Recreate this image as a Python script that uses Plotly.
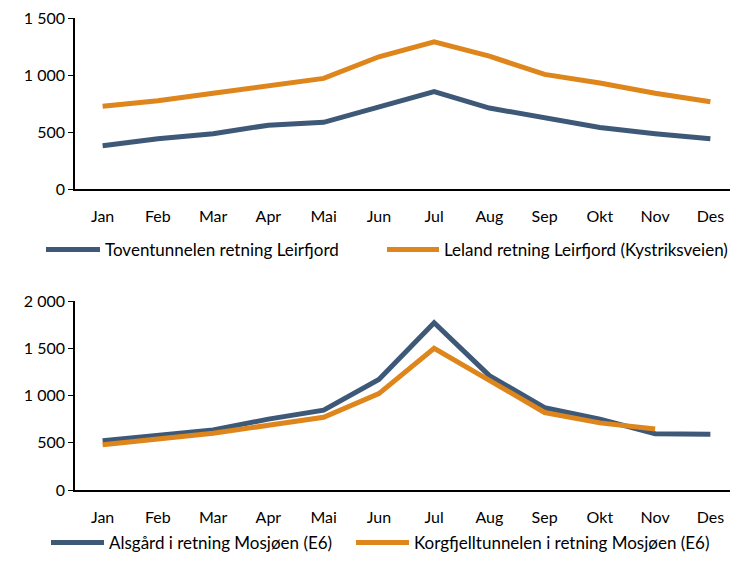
import plotly.graph_objects as go

# ── Data ────────────────────────────────────────────────────────────────
MONTHS = ["Jan", "Feb", "Mar", "Apr", "Mai", "Jun", "Jul", "Aug", "Sep", "Okt", "Nov", "Des"]

TOVEN = [380, 440, 485, 560, 585, 725, 855, 710, 620, 540, 485, 440]
LELAND = [725, 775, 840, 910, 970, 1160, 1290, 1165, 1005, 930, 840, 765]

ALSGARD = [520, 580, 635, 750, 845, 1170, 1770, 1210, 870, 750, 595, 590]
KORGFJELL = [480, 540, 600, 685, 770, 1020, 1500, 1160, 820, 710, 645, None]

BLUE = "#3E5878"
ORANGE = "#DE851C"
FONT = "Lato, sans-serif"

# page body keeps its default 8px margin, so the figure is 8px smaller
W, H = 730, 553

# one legend per series so each entry can sit where the original has it
fig = go.Figure()
fig.add_trace(go.Scatter(x=MONTHS, y=TOVEN, mode="lines", name="Toventunnelen retning Leirfjord",
                         line=dict(color=BLUE, width=5), xaxis="x", yaxis="y", legend="legend"))
fig.add_trace(go.Scatter(x=MONTHS, y=LELAND, mode="lines", name="Leland retning Leirfjord (Kystriksveien)",
                         line=dict(color=ORANGE, width=5), xaxis="x", yaxis="y", legend="legend2"))
fig.add_trace(go.Scatter(x=MONTHS, y=ALSGARD, mode="lines", name="Alsgård i retning Mosjøen (E6)",
                         line=dict(color=BLUE, width=5), xaxis="x2", yaxis="y2", legend="legend3"))
fig.add_trace(go.Scatter(x=MONTHS, y=KORGFJELL, mode="lines", name="Korgfjelltunnelen i retning Mosjøen (E6)",
                         line=dict(color=ORANGE, width=5), xaxis="x2", yaxis="y2", legend="legend4"))

xstyle = dict(range=[-0.5, 11.5], showline=True, linecolor="black", linewidth=1.5, automargin=False,
              showgrid=False, ticks="", ticklabelstandoff=12, tickfont=dict(size=16))
ystyle = dict(showline=True, linecolor="black", linewidth=1.5, showgrid=False, zeroline=False, automargin=False,
              ticks="outside", ticklen=5, tickcolor="black", tickformat=",d", tickfont=dict(size=16),
              ticklabeloverflow="allow")


def leg(px_x, px_y, symbol_w, anchor="middle", size=17):
    return dict(orientation="h", x=px_x / W, xanchor="left", y=1 - px_y / H, yanchor=anchor,
                itemwidth=symbol_w, font=dict(size=size), bgcolor="rgba(0,0,0,0)", borderwidth=0)


fig.update_layout(
    width=W, height=H,
    paper_bgcolor="white", plot_bgcolor="white",
    font=dict(family=FONT, color="black", size=16),
    separators=", ",
    showlegend=True,
    margin=dict(l=0, r=0, t=0, b=0),
    xaxis=dict(**xstyle, domain=[67 / W, 1], anchor="y"),
    yaxis=dict(**ystyle, domain=[1 - 181 / H, 1 - 10 / H], range=[0, 1500], dtick=500, anchor="x"),
    xaxis2=dict(**xstyle, domain=[67 / W, 1], anchor="y2"),
    yaxis2=dict(**ystyle, domain=[1 - 482 / H, 1 - 293 / H], range=[0, 2000], dtick=500, anchor="x2"),
    legend=leg(33, 242, 54),
    legend2=leg(374, 242, 52),
    legend3=leg(38, H, 53, anchor="bottom"),
    legend4=leg(343, H, 53, anchor="bottom"),
)

fig.write_html("out.html")
